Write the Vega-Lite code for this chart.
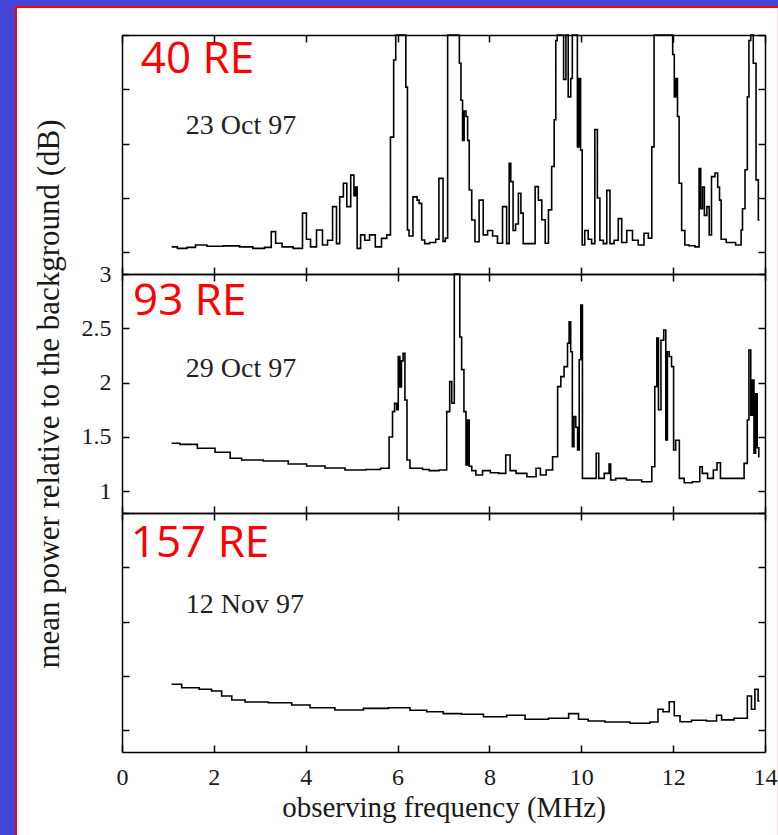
{
  "$schema": "https://vega.github.io/schema/vega-lite/v6.json",
  "background": "#4444D8",
  "padding": {"left": 15, "top": 6, "right": 0, "bottom": 0},
  "bounds": "flush",
  "spacing": 0,
  "config": {
    "view": {"stroke": null},
    "axis": {
      "domainColor": "black", "domainWidth": 1.5,
      "tickColor": "black", "tickWidth": 1.5, "tickSize": -7,
      "grid": false, "labelFlush": false,
      "labelFont": "Liberation Serif", "labelFontSize": 24, "labelColor": "#1a1a1a",
      "titleFont": "Liberation Serif", "titleFontWeight": "normal", "titleColor": "#1a1a1a"
    }
  },
  "datasets": {
    "oct23": [
      {"f":1.08,"p":1.05},{"f":1.33,"p":1.036},{"f":1.5,"p":1.045},{"f":1.7,"p":1.067},{"f":2.0,"p":1.055},{"f":2.42,"p":1.059},{"f":2.7,"p":1.05},{"f":3.0,"p":1.036},{"f":3.21,"p":1.045},{"f":3.29,"p":1.19},{"f":3.4,"p":1.083},{"f":3.57,"p":1.05},{"f":3.88,"p":1.036},{"f":3.98,"p":1.36},{"f":4.05,"p":1.12},{"f":4.16,"p":1.05},{"f":4.31,"p":1.205},{"f":4.42,"p":1.067},{"f":4.53,"p":1.11},{"f":4.64,"p":1.42},{"f":4.7,"p":1.08},{"f":4.78,"p":1.51},{"f":4.86,"p":1.635},{"f":4.93,"p":1.42},{"f":5.03,"p":1.71},{"f":5.07,"p":1.52},{"f":5.1,"p":1.6},{"f":5.14,"p":1.036},{"f":5.25,"p":1.16},{"f":5.32,"p":1.11},{"f":5.46,"p":1.16},{"f":5.57,"p":1.05},{"f":5.73,"p":1.128},{"f":5.8,"p":1.16},{"f":5.89,"p":2.06},{"f":5.94,"p":2.77},{"f":5.98,"p":3.0},{"f":6.16,"p":3.0},{"f":6.2,"p":2.52},{"f":6.23,"p":1.205},{"f":6.27,"p":1.15},{"f":6.4,"p":1.51},{"f":6.45,"p":1.48},{"f":6.49,"p":1.45},{"f":6.56,"p":1.113},{"f":6.62,"p":1.08},{"f":6.78,"p":1.09},{"f":6.88,"p":1.12},{"f":6.92,"p":1.68},{"f":6.97,"p":1.68},{"f":7.01,"p":1.1},{"f":7.07,"p":1.13},{"f":7.11,"p":3.0},{"f":7.33,"p":3.0},{"f":7.36,"p":2.74},{"f":7.4,"p":2.4},{"f":7.43,"p":2.03},{"f":7.47,"p":2.3},{"f":7.51,"p":2.25},{"f":7.54,"p":2.03},{"f":7.58,"p":1.573},{"f":7.65,"p":1.297},{"f":7.72,"p":1.097},{"f":7.83,"p":1.48},{"f":7.9,"p":1.16},{"f":8.02,"p":1.2},{"f":8.12,"p":1.15},{"f":8.23,"p":1.083},{"f":8.34,"p":1.42},{"f":8.41,"p":1.08},{"f":8.45,"p":1.82},{"f":8.48,"p":1.65},{"f":8.55,"p":1.2},{"f":8.59,"p":1.26},{"f":8.67,"p":1.543},{"f":8.7,"p":1.36},{"f":8.77,"p":1.08},{"f":8.96,"p":1.08},{"f":9.03,"p":1.604},{"f":9.1,"p":1.48},{"f":9.18,"p":1.3},{"f":9.25,"p":1.083},{"f":9.32,"p":1.39},{"f":9.39,"p":1.79},{"f":9.43,"p":2.22},{"f":9.46,"p":2.95},{"f":9.49,"p":3.0},{"f":9.58,"p":3.0},{"f":9.65,"p":2.59},{"f":9.68,"p":3.0},{"f":9.75,"p":2.43},{"f":9.79,"p":2.6},{"f":9.82,"p":3.0},{"f":9.9,"p":3.0},{"f":9.93,"p":1.97},{"f":9.97,"p":2.6},{"f":10.0,"p":1.94},{"f":10.04,"p":1.067},{"f":10.11,"p":1.2},{"f":10.19,"p":1.12},{"f":10.26,"p":1.08},{"f":10.33,"p":2.13},{"f":10.37,"p":1.5},{"f":10.44,"p":1.11},{"f":10.52,"p":1.08},{"f":10.59,"p":1.57},{"f":10.66,"p":1.08},{"f":10.77,"p":1.11},{"f":10.84,"p":1.31},{"f":10.92,"p":1.09},{"f":11.06,"p":1.2},{"f":11.17,"p":1.11},{"f":11.31,"p":1.067},{"f":11.42,"p":1.175},{"f":11.5,"p":1.13},{"f":11.57,"p":1.97},{"f":11.6,"p":3.0},{"f":11.97,"p":3.0},{"f":12.01,"p":2.82},{"f":12.04,"p":2.43},{"f":12.08,"p":2.6},{"f":12.11,"p":2.25},{"f":12.15,"p":1.635},{"f":12.22,"p":1.2},{"f":12.29,"p":1.067},{"f":12.4,"p":1.06},{"f":12.55,"p":1.05},{"f":12.58,"p":1.77},{"f":12.62,"p":1.4},{"f":12.66,"p":1.6},{"f":12.7,"p":1.34},{"f":12.77,"p":1.42},{"f":12.8,"p":1.16},{"f":12.87,"p":1.696},{"f":12.95,"p":1.73},{"f":12.99,"p":1.6},{"f":13.03,"p":1.48},{"f":13.06,"p":1.12},{"f":13.25,"p":1.09},{"f":13.47,"p":1.067},{"f":13.49,"p":1.205},{"f":13.53,"p":1.4},{"f":13.6,"p":1.76},{"f":13.63,"p":2.43},{"f":13.67,"p":2.95},{"f":13.71,"p":3.0},{"f":13.78,"p":2.74},{"f":13.83,"p":1.666},{"f":13.88,"p":1.297}
    ],
    "oct29": [
      {"f":1.08,"p":1.442},{"f":1.44,"p":1.432},{"f":1.84,"p":1.396},{"f":2.21,"p":1.359},{"f":2.5,"p":1.304},{"f":2.71,"p":1.288},{"f":3.44,"p":1.279},{"f":3.8,"p":1.251},{"f":4.24,"p":1.233},{"f":4.6,"p":1.214},{"f":5.11,"p":1.196},{"f":5.5,"p":1.2},{"f":5.76,"p":1.212},{"f":5.87,"p":1.5},{"f":5.91,"p":1.733},{"f":5.96,"p":1.81},{"f":6.0,"p":1.75},{"f":6.03,"p":2.24},{"f":6.07,"p":1.96},{"f":6.1,"p":2.2},{"f":6.14,"p":2.27},{"f":6.18,"p":1.84},{"f":6.23,"p":1.288},{"f":6.31,"p":1.212},{"f":6.49,"p":1.212},{"f":6.6,"p":1.2},{"f":6.78,"p":1.19},{"f":7.03,"p":1.196},{"f":7.11,"p":1.733},{"f":7.16,"p":2.009},{"f":7.2,"p":1.81},{"f":7.27,"p":3.0},{"f":7.34,"p":3.0},{"f":7.37,"p":2.42},{"f":7.42,"p":2.12},{"f":7.47,"p":1.733},{"f":7.51,"p":1.242},{"f":7.54,"p":1.656},{"f":7.58,"p":1.23},{"f":7.65,"p":1.19},{"f":7.76,"p":1.15},{"f":7.94,"p":1.19},{"f":8.1,"p":1.17},{"f":8.3,"p":1.165},{"f":8.41,"p":1.334},{"f":8.49,"p":1.19},{"f":8.67,"p":1.165},{"f":8.96,"p":1.134},{"f":9.07,"p":1.212},{"f":9.15,"p":1.15},{"f":9.32,"p":1.196},{"f":9.43,"p":1.318},{"f":9.54,"p":1.963},{"f":9.57,"p":2.055},{"f":9.68,"p":2.147},{"f":9.72,"p":2.362},{"f":9.75,"p":2.56},{"f":9.79,"p":2.285},{"f":9.82,"p":1.41},{"f":9.86,"p":1.687},{"f":9.9,"p":1.59},{"f":9.94,"p":1.38},{"f":9.97,"p":2.21},{"f":10.01,"p":2.715},{"f":10.04,"p":1.119},{"f":10.3,"p":1.119},{"f":10.35,"p":1.35},{"f":10.41,"p":1.119},{"f":10.59,"p":1.165},{"f":10.62,"p":1.251},{"f":10.66,"p":1.104},{"f":10.84,"p":1.119},{"f":11.13,"p":1.104},{"f":11.5,"p":1.088},{"f":11.57,"p":1.226},{"f":11.63,"p":1.963},{"f":11.66,"p":2.41},{"f":11.7,"p":1.75},{"f":11.77,"p":2.39},{"f":11.82,"p":2.485},{"f":11.86,"p":1.472},{"f":11.89,"p":2.285},{"f":11.94,"p":2.24},{"f":11.99,"p":2.147},{"f":12.03,"p":1.38},{"f":12.08,"p":1.47},{"f":12.19,"p":1.119},{"f":12.29,"p":1.079},{"f":12.55,"p":1.088},{"f":12.61,"p":1.226},{"f":12.66,"p":1.165},{"f":12.84,"p":1.119},{"f":12.91,"p":1.196},{"f":13.0,"p":1.263},{"f":13.06,"p":1.119},{"f":13.49,"p":1.119},{"f":13.6,"p":1.257},{"f":13.63,"p":1.656},{"f":13.67,"p":2.3},{"f":13.71,"p":1.7},{"f":13.74,"p":2.024},{"f":13.78,"p":1.35},{"f":13.81,"p":1.898},{"f":13.85,"p":1.4},{"f":13.88,"p":1.318}
    ],
    "nov12": [
      {"f":1.08,"p":1.423},{"f":1.52,"p":1.392},{"f":1.84,"p":1.377},{"f":2.06,"p":1.362},{"f":2.28,"p":1.316},{"f":2.5,"p":1.279},{"f":2.86,"p":1.26},{"f":3.51,"p":1.254},{"f":3.88,"p":1.233},{"f":4.31,"p":1.208},{"f":4.96,"p":1.187},{"f":5.55,"p":1.202},{"f":6.05,"p":1.208},{"f":6.49,"p":1.184},{"f":6.78,"p":1.171},{"f":7.21,"p":1.153},{"f":7.58,"p":1.147},{"f":8.16,"p":1.125},{"f":8.59,"p":1.138},{"f":8.96,"p":1.101},{"f":9.61,"p":1.11},{"f":9.84,"p":1.153},{"f":10.04,"p":1.101},{"f":10.26,"p":1.085},{"f":10.77,"p":1.076},{"f":11.35,"p":1.064},{"f":11.64,"p":1.076},{"f":11.7,"p":1.193},{"f":11.86,"p":1.171},{"f":11.97,"p":1.263},{"f":12.08,"p":1.134},{"f":12.22,"p":1.079},{"f":12.58,"p":1.092},{"f":12.87,"p":1.085},{"f":13.02,"p":1.138},{"f":13.09,"p":1.096},{"f":13.56,"p":1.11},{"f":13.67,"p":1.316},{"f":13.74,"p":1.193},{"f":13.82,"p":1.377},{"f":13.88,"p":1.27}
    ]
  },
  "vconcat": [
    {
      "width": 643, "height": 239,
      "resolve": {"axis": {"x": "independent", "y": "independent"}},
      "layer": [
        {
          "data": {"values": [{}]},
          "mark": {"type": "rect", "color": "#FF0000"},
          "encoding": {
            "x": {"datum": -2.3297, "type": "quantitative", "scale": {"domain": [0, 14], "nice": false, "zero": false}, "axis": null},
            "x2": {"datum": 14.28},
            "y": {"datum": 3.2669, "type": "quantitative", "scale": {"domain": [0.8, 3], "nice": false, "zero": false}, "axis": null},
            "y2": {"datum": -4.363}
          }
        },
        {
          "data": {"values": [{}]},
          "mark": {"type": "rect", "color": "#FFFFFF"},
          "encoding": {
            "x": {"datum": -2.2862, "type": "quantitative", "scale": {"domain": [0, 14], "nice": false, "zero": false}, "axis": null},
            "x2": {"datum": 14.28},
            "y": {"datum": 3.2485, "type": "quantitative", "scale": {"domain": [0.8, 3], "nice": false, "zero": false}, "axis": null},
            "y2": {"datum": -4.363}
          }
        },
        {
          "data": {"name": "oct23"},
          "mark": {"type": "line", "color": "black", "strokeWidth": 1.6, "interpolate": "step"},
          "encoding": {
            "x": {"field": "f", "type": "quantitative", "scale": {"domain": [0, 14], "nice": false, "zero": false},
                  "axis": {"orient": "bottom", "values": [0,2,4,6,8,10,12,14], "labels": false, "title": null, "zindex": 2}},
            "y": {"field": "p", "type": "quantitative", "scale": {"domain": [0.8, 3], "nice": false, "zero": false},
                  "axis": {"orient": "left", "values": [1,1.5,2,2.5,3], "labels": false, "title": null, "zindex": 2}}
          }
        },
        {
          "data": {"values": [{}]},
          "mark": {"type": "text", "color": "#FF0000", "font": "Open Sans", "fontSize": 44, "align": "left", "baseline": "alphabetic"},
          "encoding": {
            "x": {"datum": 0.41, "type": "quantitative", "scale": {"domain": [0, 14], "nice": false, "zero": false},
                  "axis": {"orient": "top", "values": [0,2,4,6,8,10,12,14], "labels": false, "title": null, "zindex": 2}},
            "y": {"datum": 2.65, "type": "quantitative", "scale": {"domain": [0.8, 3], "nice": false, "zero": false},
                  "axis": {"orient": "right", "values": [1,1.5,2,2.5,3], "labels": false, "title": null, "zindex": 2}},
            "text": {"value": "40 RE"}
          }
        },
        {
          "data": {"values": [{}]},
          "mark": {"type": "text", "color": "#222222", "font": "Liberation Serif", "fontSize": 28, "align": "left", "baseline": "alphabetic"},
          "encoding": {
            "x": {"datum": 1.39, "type": "quantitative", "scale": {"domain": [0, 14], "nice": false, "zero": false}, "axis": null},
            "y": {"datum": 2.089, "type": "quantitative", "scale": {"domain": [0.8, 3], "nice": false, "zero": false}, "axis": null},
            "text": {"value": "23 Oct 97"}
          }
        }
      ]
    },
    {
      "width": 643, "height": 239,
      "resolve": {"axis": {"x": "independent", "y": "independent"}},
      "layer": [
        {
          "data": {"name": "oct29"},
          "mark": {"type": "line", "color": "black", "strokeWidth": 1.6, "interpolate": "step"},
          "encoding": {
            "x": {"field": "f", "type": "quantitative", "scale": {"domain": [0, 14], "nice": false, "zero": false},
                  "axis": {"orient": "bottom", "values": [0,2,4,6,8,10,12,14], "labels": false, "title": null, "zindex": 2}},
            "y": {"field": "p", "type": "quantitative", "scale": {"domain": [0.8, 3], "nice": false, "zero": false},
                  "axis": {"orient": "left", "values": [1,1.5,2,2.5,3], "format": "~g", "labels": true, "labelPadding": 18,
                           "title": "mean power relative to the background (dB)", "titleFontSize": 31, "titlePadding": 16, "zindex": 2}}
          }
        },
        {
          "data": {"values": [{}]},
          "mark": {"type": "text", "color": "#FF0000", "font": "Open Sans", "fontSize": 44, "align": "left", "baseline": "alphabetic"},
          "encoding": {
            "x": {"datum": 0.24, "type": "quantitative", "scale": {"domain": [0, 14], "nice": false, "zero": false},
                  "axis": {"orient": "top", "values": [0,2,4,6,8,10,12,14], "labels": false, "title": null, "zindex": 2}},
            "y": {"datum": 2.623, "type": "quantitative", "scale": {"domain": [0.8, 3], "nice": false, "zero": false},
                  "axis": {"orient": "right", "values": [1,1.5,2,2.5,3], "labels": false, "title": null, "zindex": 2}},
            "text": {"value": "93 RE"}
          }
        },
        {
          "data": {"values": [{}]},
          "mark": {"type": "text", "color": "#222222", "font": "Liberation Serif", "fontSize": 28, "align": "left", "baseline": "alphabetic"},
          "encoding": {
            "x": {"datum": 1.39, "type": "quantitative", "scale": {"domain": [0, 14], "nice": false, "zero": false}, "axis": null},
            "y": {"datum": 2.052, "type": "quantitative", "scale": {"domain": [0.8, 3], "nice": false, "zero": false}, "axis": null},
            "text": {"value": "29 Oct 97"}
          }
        }
      ]
    },
    {
      "width": 643, "height": 239,
      "resolve": {"axis": {"x": "independent", "y": "independent"}},
      "layer": [
        {
          "data": {"name": "nov12"},
          "mark": {"type": "line", "color": "black", "strokeWidth": 1.6, "interpolate": "step"},
          "encoding": {
            "x": {"field": "f", "type": "quantitative", "scale": {"domain": [0, 14], "nice": false, "zero": false},
                  "axis": {"orient": "bottom", "values": [0,2,4,6,8,10,12,14], "labels": true, "labelPadding": 20,
                           "title": "observing frequency (MHz)", "titleFontSize": 29, "titlePadding": 4, "zindex": 2}},
            "y": {"field": "p", "type": "quantitative", "scale": {"domain": [0.8, 3], "nice": false, "zero": false},
                  "axis": {"orient": "left", "values": [1,1.5,2,2.5,3], "labels": false, "title": null, "zindex": 2}}
          }
        },
        {
          "data": {"values": [{}]},
          "mark": {"type": "text", "color": "#FF0000", "font": "Open Sans", "fontSize": 44, "align": "left", "baseline": "alphabetic"},
          "encoding": {
            "x": {"datum": 0.19, "type": "quantitative", "scale": {"domain": [0, 14], "nice": false, "zero": false},
                  "axis": {"orient": "top", "values": [0,2,4,6,8,10,12,14], "labels": false, "title": null, "zindex": 2}},
            "y": {"datum": 2.598, "type": "quantitative", "scale": {"domain": [0.8, 3], "nice": false, "zero": false},
                  "axis": {"orient": "right", "values": [1,1.5,2,2.5,3], "labels": false, "title": null, "zindex": 2}},
            "text": {"value": "157 RE"}
          }
        },
        {
          "data": {"values": [{}]},
          "mark": {"type": "text", "color": "#222222", "font": "Liberation Serif", "fontSize": 28, "align": "left", "baseline": "alphabetic"},
          "encoding": {
            "x": {"datum": 1.39, "type": "quantitative", "scale": {"domain": [0, 14], "nice": false, "zero": false}, "axis": null},
            "y": {"datum": 2.0795, "type": "quantitative", "scale": {"domain": [0.8, 3], "nice": false, "zero": false}, "axis": null},
            "text": {"value": "12 Nov 97"}
          }
        }
      ]
    }
  ]
}
